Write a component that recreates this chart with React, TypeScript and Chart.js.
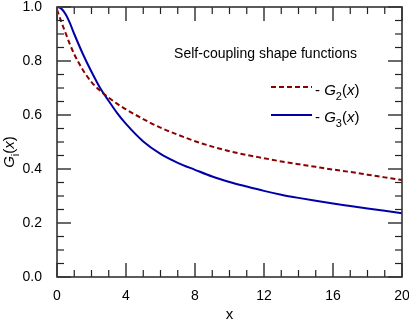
import React, { useEffect, useRef } from 'react';
import { Chart, registerables } from 'chart.js';

Chart.register(...registerables);

const xValues = [0, 0.25, 0.5, 0.75, 1, 1.5, 2, 2.5, 3, 3.5, 4, 5, 6, 7, 8, 9, 10, 11, 12, 13, 14, 15, 16, 17, 18, 19, 20];
const g2Values = [0.99, 0.945, 0.903, 0.862, 0.825, 0.767, 0.722, 0.69, 0.664, 0.641, 0.621, 0.585, 0.553, 0.527, 0.503, 0.483, 0.466, 0.452, 0.44, 0.428, 0.418, 0.408, 0.398, 0.389, 0.379, 0.369, 0.359];
const g3Values = [1.0, 0.994, 0.973, 0.94, 0.9, 0.826, 0.76, 0.7, 0.652, 0.606, 0.567, 0.502, 0.456, 0.423, 0.397, 0.372, 0.352, 0.335, 0.319, 0.305, 0.293, 0.282, 0.272, 0.263, 0.254, 0.245, 0.236];
const xTickValues = [0, 4, 8, 12, 16, 20];
const yTickValues = [0, 0.2, 0.4, 0.6, 0.8, 1.0];
const legendTitle = 'Self-coupling shape functions';
const seriesNames = ['2', '3'];

const RED = '#8b0000';
const BLUE = '#0000a8';
const FONT = '"Liberation Sans", Arial, sans-serif';

type Seg = { t: string; italic?: boolean; sub?: boolean };

function segWidth(ctx: CanvasRenderingContext2D, segs: Seg[], size: number) {
  let w = 0;
  for (const s of segs) {
    const fs = s.sub ? Math.round(size * 0.7) : size;
    ctx.font = `${s.italic ? 'italic ' : ''}${fs}px ${FONT}`;
    w += ctx.measureText(s.t).width;
  }
  return w;
}

function drawSegs(ctx: CanvasRenderingContext2D, segs: Seg[], x: number, y: number, size: number) {
  let cx = x;
  ctx.textAlign = 'left';
  ctx.textBaseline = 'alphabetic';
  for (const s of segs) {
    const fs = s.sub ? Math.round(size * 0.7) : size;
    ctx.font = `${s.italic ? 'italic ' : ''}${fs}px ${FONT}`;
    ctx.fillText(s.t, cx, s.sub ? y + size * 0.3 : y);
    cx += ctx.measureText(s.t).width;
  }
}

const overlay = {
  id: 'overlay',
  afterDraw(chart: any) {
    const { ctx, chartArea: a, scales } = chart;
    const xs = scales.x;
    const ys = scales.y;
    ctx.save();
    const line = (x1: number, y1: number, x2: number, y2: number, major: boolean) => {
      ctx.beginPath();
      ctx.strokeStyle = major ? '#6a6a6a' : '#222';
      ctx.lineWidth = major ? 2 : 1.2;
      ctx.moveTo(x1, y1);
      ctx.lineTo(x2, y2);
      ctx.stroke();
    };
    for (let i = 0; i <= 20; i++) {
      const px = xs.getPixelForValue(i);
      const major = i % 4 === 0;
      const L = major ? 14 : 7;
      line(px, a.bottom, px, a.bottom - L, major);
      line(px, a.top, px, a.top + L, major);
    }
    for (let i = 0; i <= 20; i++) {
      const py = ys.getPixelForValue(i * 0.05);
      const major = i % 4 === 0;
      const L = major ? 14 : 7;
      line(a.left, py, a.left + L, py, major);
      line(a.right, py, a.right - L, py, major);
    }
    ctx.strokeStyle = '#333';
    ctx.lineWidth = 1.6;
    ctx.strokeRect(a.left, a.top, a.right - a.left, a.bottom - a.top);

    ctx.fillStyle = '#000';
    ctx.font = `14px ${FONT}`;
    ctx.textAlign = 'right';
    ctx.textBaseline = 'alphabetic';
    ctx.fillText(legendTitle, 357, 58);

    const entries = [
      { color: RED, dash: [5, 3], y: 87, base: 95, name: seriesNames[0] },
      { color: BLUE, dash: [], y: 115, base: 122, name: seriesNames[1] },
    ];
    for (const e of entries) {
      ctx.beginPath();
      ctx.strokeStyle = e.color;
      ctx.lineWidth = 2;
      ctx.setLineDash(e.dash);
      ctx.moveTo(271, e.y);
      ctx.lineTo(312, e.y);
      ctx.stroke();
      ctx.setLineDash([]);
      ctx.fillStyle = '#000';
      drawSegs(ctx, [
        { t: '- ' },
        { t: 'G', italic: true },
        { t: e.name, sub: true },
        { t: '(' },
        { t: 'x', italic: true },
        { t: ')' },
      ], 315, e.base, 15);
    }

    const ySegs: Seg[] = [
      { t: 'G', italic: true },
      { t: 'i', sub: true },
      { t: '(' },
      { t: 'x', italic: true },
      { t: ')' },
    ];
    const w = segWidth(ctx, ySegs, 15);
    ctx.save();
    ctx.translate(14, 152);
    ctx.rotate(-Math.PI / 2);
    drawSegs(ctx, ySegs, -w / 2, 0, 15);
    ctx.restore();

    ctx.font = `15px ${FONT}`;
    ctx.textAlign = 'center';
    ctx.textBaseline = 'alphabetic';
    ctx.fillText('x', (a.left + a.right) / 2, 319);
    ctx.restore();
  },
};

export default function App() {
  const ref = useRef<HTMLCanvasElement | null>(null);
  useEffect(() => {
    document.body.style.margin = '0';
    const canvas = ref.current!;
    const chart = new Chart(canvas, {
      type: 'line',
      data: {
        datasets: [
          {
            label: 'G2',
            data: xValues.map((x, i) => ({ x, y: g2Values[i] })),
            borderColor: RED,
            borderWidth: 2,
            borderDash: [5, 3],
            pointRadius: 0,
            cubicInterpolationMode: 'monotone',
            fill: false,
          },
          {
            label: 'G3',
            data: xValues.map((x, i) => ({ x, y: g3Values[i] })),
            borderColor: BLUE,
            borderWidth: 2,
            pointRadius: 0,
            cubicInterpolationMode: 'monotone',
            fill: false,
          },
        ],
      },
      options: {
        animation: false,
        responsive: false,
        maintainAspectRatio: false,
        layout: { padding: { top: 7, right: 7, left: 0, bottom: 0 } },
        plugins: { legend: { display: false }, tooltip: { enabled: false } },
        scales: {
          x: {
            type: 'linear',
            min: 0,
            max: 20,
            afterBuildTicks: (s: any) => { s.ticks = xTickValues.map((v) => ({ value: v })); },
            afterFit: (s: any) => { s.height = 44; s.paddingLeft = 0; s.paddingRight = 0; },
            grid: { display: false, drawTicks: false },
            border: { display: false },
            ticks: {
              color: '#000',
              padding: 12,
              maxRotation: 0,
              font: { family: FONT, size: 14, lineHeight: 1 },
              callback: (v: any) => String(v),
            },
          },
          y: {
            type: 'linear',
            min: 0,
            max: 1,
            afterBuildTicks: (s: any) => { s.ticks = yTickValues.map((v) => ({ value: v })); },
            afterFit: (s: any) => { s.width = 57; s.paddingTop = 0; s.paddingBottom = 0; },
            grid: { display: false, drawTicks: false },
            border: { display: false },
            ticks: {
              color: '#000',
              padding: 15,
              font: { family: FONT, size: 14, lineHeight: 1 },
              callback: (v: any) => Number(v).toFixed(1),
            },
          },
        },
      },
      plugins: [overlay],
    } as any);
    return () => chart.destroy();
  }, []);
  return (
    <div style={{ position: 'absolute', left: 0, top: 0, width: 409, height: 321 }}>
      <canvas ref={ref} width={409} height={321} style={{ display: 'block', width: 409, height: 321 }} />
    </div>
  );
}
